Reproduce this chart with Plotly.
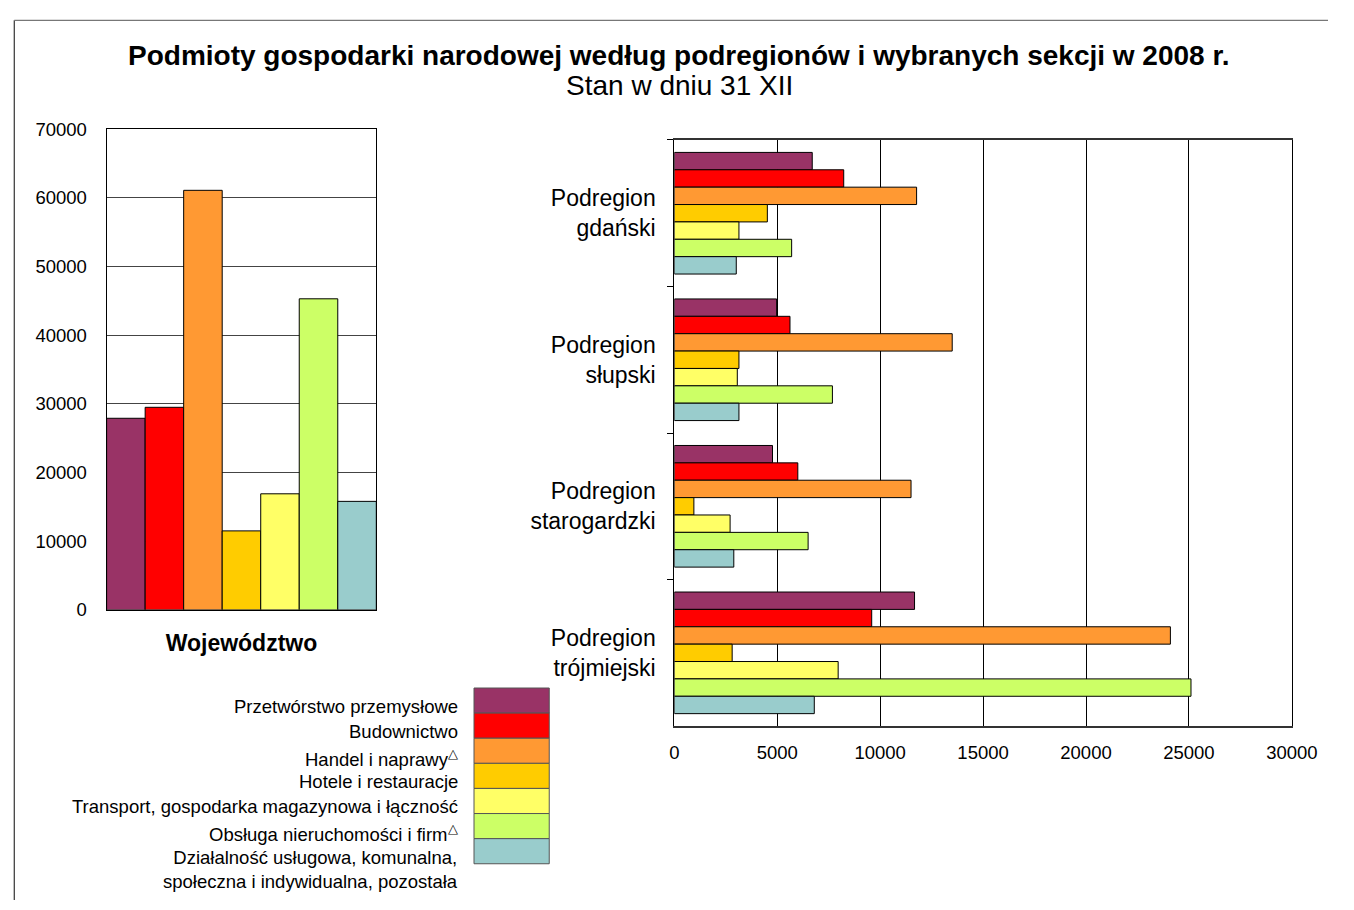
import plotly.graph_objects as go

# ---------------- data ----------------
sectors = [
    "Przetwórstwo przemysłowe",
    "Budownictwo",
    "Handel i naprawy<sup>△</sup>",
    "Hotele i restauracje",
    "Transport, gospodarka magazynowa i łączność",
    "Obsługa nieruchomości i firm<sup>△</sup>",
    "Działalność usługowa, komunalna,<br>społeczna i indywidualna, pozostała",
]
colors = ["#993366", "#FF0000", "#FF9933", "#FFCC00", "#FFFF66", "#CCFF66", "#99CCCC"]

total_label = "Województwo"
totals = [27900, 29500, 61100, 11500, 16900, 45300, 15800]

subregions = [
    "Podregion<br>gdański",
    "Podregion<br>słupski",
    "Podregion<br>starogardzki",
    "Podregion<br>trójmiejski",
]
przetworstwo = [6700, 4970, 4770, 11670]
budownictwo = [8230, 5620, 6000, 9590]
handel = [11770, 13500, 11500, 24100]
hotele = [4520, 3140, 950, 2810]
transport = [3140, 3060, 2710, 7960]
obsluga = [5700, 7680, 6500, 25100]
dzialalnosc = [3010, 3140, 2890, 6800]
sub_values = [przetworstwo, budownictwo, handel, hotele, transport, obsluga, dzialalnosc]

left_ticks = [0, 10000, 20000, 30000, 40000, 50000, 60000, 70000]
right_ticks = [0, 5000, 10000, 15000, 20000, 25000, 30000]

title_text = "Podmioty gospodarki narodowej według podregionów i wybranych sekcji w 2008 r."
subtitle_text = "Stan w dniu 31 XII"

# ---------------- helpers ----------------
W, H = 1354, 910
FONT = "Liberation Sans, Arial, sans-serif"


def X(px):
    return px / W


def Y(py):
    return 1 - py / H


fig = go.Figure()
n = len(sectors)

# left: voivodeship totals
for i, (name, val, col) in enumerate(zip(sectors, totals, colors)):
    fig.add_trace(go.Bar(
        x=[total_label], y=[val], name=name,
        marker=dict(color=col, line=dict(color="black", width=1)),
        width=1 / n, offset=-0.5 + i / n,
        xaxis="x", yaxis="y", showlegend=False,
    ))

# right: subregions
for name, vals, col in zip(sectors, sub_values, colors):
    fig.add_trace(go.Bar(
        y=subregions, x=vals, orientation="h", name=name,
        marker=dict(color=col, line=dict(color="black", width=1)),
        xaxis="x2", yaxis="y2", showlegend=False,
    ))

# custom legend (boxes + right aligned labels)
box_x0, box_x1 = 480, 557
box_top, box_h = 693, 25.7
shapes = []
annotations = []
for i, (name, col) in enumerate(zip(sectors, colors)):
    t = box_top + i * box_h
    shapes.append(dict(type="rect", xref="paper", yref="paper",
                       x0=X(box_x0), x1=X(box_x1), y0=Y(t + box_h), y1=Y(t),
                       fillcolor=col, line=dict(color="#555", width=1)))
    annotations.append(dict(xref="paper", yref="paper", x=X(466), y=Y(t + 6),
                            xanchor="right", yanchor="top", align="right",
                            text=name, showarrow=False,
                            font=dict(family=FONT, size=18.5, color="black")))

# title
annotations.append(dict(xref="paper", yref="paper", x=X(690), y=Y(46),
                        xanchor="center", yanchor="middle", showarrow=False,
                        text="<b>" + title_text + "</b>",
                        font=dict(family=FONT, size=28, color="black")))
annotations.append(dict(xref="paper", yref="paper", x=X(690), y=Y(76),
                        xanchor="center", yanchor="middle", showarrow=False,
                        text=subtitle_text,
                        font=dict(family=FONT, size=28, color="black")))

# outer frame
shapes.append(dict(type="line", xref="paper", yref="paper",
                   x0=X(9.5), x1=X(9.5), y0=0, y1=Y(9.5), line=dict(color="#333", width=1.2)))
shapes.append(dict(type="line", xref="paper", yref="paper",
                   x0=X(9.5), x1=1, y0=Y(9.5), y1=Y(9.5), line=dict(color="#777", width=1.2)))

fig.update_layout(
    autosize=True,
    margin=dict(l=0, r=0, t=0, b=0),
    paper_bgcolor="white", plot_bgcolor="white",
    font=dict(family=FONT, color="black"),
    barmode="group", bargap=0.17, bargroupgap=0,
    xaxis=dict(domain=[X(104), X(380)], anchor="y", type="category",
               range=[-0.5, 0.5], showline=True, mirror=True, linecolor="black",
               linewidth=1, ticks="", ticklabelstandoff=13,
               tickfont=dict(family=FONT, size=23, color="black", weight="bold"),
               showgrid=False, zeroline=False),
    yaxis=dict(domain=[Y(613), Y(121)], anchor="x", range=[0, 70000],
               tickvals=left_ticks, ticktext=[str(v) for v in left_ticks],
               showgrid=True, gridcolor="#444", gridwidth=1,
               showline=True, mirror=True, linecolor="black", linewidth=1,
               ticks="", ticklabelstandoff=15,
               tickfont=dict(family=FONT, size=18.5, color="black"), zeroline=False),
    xaxis2=dict(domain=[X(685), X(1317)], anchor="y2", range=[0, 30000],
                tickvals=right_ticks, ticktext=[str(v) for v in right_ticks],
                showgrid=True, gridcolor="black", gridwidth=1,
                showline=True, mirror=True, linecolor="#333", linewidth=1.5,
                ticks="", ticklabelstandoff=9,
                tickfont=dict(family=FONT, size=18.5, color="black"), zeroline=False),
    yaxis2=dict(domain=[Y(732), Y(132)], anchor="x2", type="category",
                autorange="reversed", tickson="boundaries", ticks="outside",
                ticklen=6, tickcolor="black", showline=True, mirror=True,
                linecolor="black", linewidth=1, showgrid=False,
                ticklabelstandoff=13,
                tickfont=dict(family=FONT, size=23, color="black")),
    shapes=shapes,
    annotations=annotations,
)

fig.write_html(
    "out.html",
    default_width="100vw",
    default_height="100vh",
    config={"displayModeBar": False, "responsive": True},
    post_script="document.body.style.margin='0';document.body.style.overflow='hidden';",
)
